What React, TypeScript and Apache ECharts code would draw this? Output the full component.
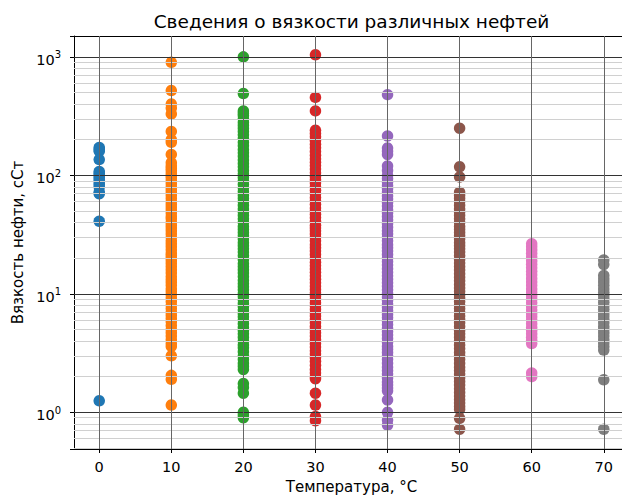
import React, { useEffect, useRef } from 'react';
import * as echarts from 'echarts';

// Temperatures (°C) of each column
const temperatures = [0, 10, 20, 30, 40, 50, 60, 70];

// Viscosity values (cSt)
const visc0 = [172, 165, 160, 136, 108, 104, 100, 96, 92, 88, 84, 80, 72, 70, 41, 1.25];
const visc10 = [900, 520, 400, 370, 330, 235, 200, 190, 150, 128, 120, 115, 110, 104, 99, 95, 90, 85, 80, 76, 72, 68, 64, 60, 57, 54, 51, 48, 45, 43, 40, 38, 36, 34, 32, 30, 28, 26.5, 25, 23.5, 22, 21, 20, 19, 18, 17, 16, 15, 14, 13.2, 12.5, 11.8, 11, 10.4, 9.8, 9.2, 8.6, 8, 7.5, 7, 6.6, 6.2, 5.8, 5.4, 5, 4.7, 4.4, 4.1, 3.8, 3.6, 3.0, 2.05, 1.9, 1.15];
const visc20 = [1000, 490, 350, 335, 320, 300, 280, 265, 250, 235, 220, 205, 190, 178, 165, 155, 145, 135, 126, 118, 110, 103, 96, 90, 84, 78, 73, 68, 64, 60, 56, 52, 49, 46, 43, 40, 37, 35, 33, 31, 29, 27, 25.5, 24, 22.5, 21, 19.5, 18, 17, 16, 15, 14, 13, 12.2, 11.5, 10.8, 10.1, 9.5, 8.9, 8.3, 7.8, 7.3, 6.8, 6.4, 6, 5.6, 5.2, 4.9, 4.6, 4.3, 4.0, 3.7, 3.5, 3.25, 3.0, 2.8, 2.6, 2.45, 2.3, 1.75, 1.62, 1.45, 1.0, 0.95, 0.9];
const visc30 = [1040, 455, 350, 240, 226, 212, 197, 183, 171, 159, 148, 138, 129, 121, 113, 105, 98, 92, 86, 80, 75, 70, 65, 61, 57, 53, 50, 47, 44, 41, 38, 36, 34, 32, 30, 28, 26, 24.5, 23, 21.5, 20, 18.5, 17.3, 16.2, 15.2, 14.2, 13.3, 12.4, 11.6, 10.9, 10.2, 9.6, 9, 8.4, 7.9, 7.4, 6.9, 6.5, 6.1, 5.7, 5.3, 5, 4.7, 4.4, 4.1, 3.8, 3.55, 3.3, 3.1, 2.9, 2.7, 2.5, 2.3, 2.15, 2.0, 1.92, 1.45, 1.15, 0.92, 0.85];
const visc40 = [480, 215, 170, 160, 150, 120, 110, 100, 94, 88, 82, 77, 72, 67, 63, 59, 55, 51, 48, 45, 42, 39, 36.5, 34, 32, 30, 28, 26, 24.5, 23, 21.5, 20, 18.7, 17.5, 16.3, 15.2, 14.2, 13.3, 12.4, 11.6, 10.8, 10.1, 9.4, 8.8, 8.2, 7.7, 7.2, 6.7, 6.3, 5.9, 5.5, 5.1, 4.8, 4.5, 4.2, 3.9, 3.6, 3.4, 3.2, 3.0, 2.8, 2.6, 2.4, 2.25, 2.1, 1.95, 1.8, 1.7, 1.6, 1.52, 1.27, 1.0, 0.86, 0.78];
const visc50 = [250, 118, 97, 72, 68, 64, 60, 56, 52, 49, 46, 43, 40, 37, 35, 33, 31, 29, 27, 25.5, 24, 22.5, 21, 19.5, 18.2, 17, 15.9, 14.8, 13.8, 12.9, 12, 11.2, 10.5, 9.8, 9.2, 8.6, 8, 7.5, 7, 6.5, 6.1, 5.7, 5.3, 4.9, 4.6, 4.3, 4.0, 3.7, 3.45, 3.2, 3.0, 2.8, 2.6, 2.4, 2.25, 2.1, 1.95, 1.82, 1.7, 1.58, 1.47, 1.37, 1.28, 1.2, 1.12, 1.06, 0.89, 0.72];
const visc60 = [26.5, 25, 23.5, 22, 20.5, 19, 17.8, 16.6, 15.5, 14.5, 13.5, 12.6, 11.8, 11, 10.3, 9.6, 9, 8.4, 7.8, 7.3, 6.8, 6.4, 6, 5.6, 5.2, 4.9, 4.6, 4.3, 4.05, 3.8, 2.15, 2.0];
const visc70 = [19.3, 17.7, 14.3, 13.4, 12.6, 11.8, 11.0, 10.3, 9.7, 9.1, 8.5, 7.9, 7.4, 6.9, 6.5, 6.1, 5.7, 5.3, 5.0, 4.7, 4.4, 4.1, 3.85, 3.6, 3.35, 1.88, 0.72];

const viscosityGroups = [visc0, visc10, visc20, visc30, visc40, visc50, visc60, visc70];

const seriesColors = ['#1f77b4', '#ff7f0e', '#2ca02c', '#d62728', '#9467bd', '#8c564b', '#e377c2', '#7f7f7f'];

// Tick values
const xTicks = [0, 10, 20, 30, 40, 50, 60, 70];
const majorY = [1, 10, 100, 1000];
const minorY = [0.5, 0.6, 0.7, 0.8, 0.9, 2, 3, 4, 5, 6, 7, 8, 9, 20, 30, 40, 50, 60, 70, 80, 90, 200, 300, 400, 500, 600, 700, 800, 900];

const titleText = 'Сведения о вязкости различных нефтей';
const xName = 'Температура, °C';
const yName = 'Вязкость нефти, сСт';

export default function App() {
  const ref = useRef<HTMLDivElement>(null);

  useEffect(() => {
    if (!ref.current) return;
    const chart = echarts.init(ref.current, null, { renderer: 'svg' });
    const font = 'DejaVu Sans';

    const scatterSeries = viscosityGroups.map((vals, i) => ({
      type: 'scatter',
      name: `${temperatures[i]}`,
      data: vals.map((v) => [temperatures[i], v]),
      symbol: 'circle',
      symbolSize: 11.5,
      itemStyle: { color: seriesColors[i], opacity: 1 },
      z: 2,
      silent: true,
    }));

    const gridSeries = {
      type: 'scatter',
      name: 'grid',
      data: [],
      silent: true,
      z: 4,
      markLine: {
        silent: true,
        symbol: 'none',
        animation: false,
        label: { show: false },
        z: 4,
        data: [
          ...minorY.map((v) => ({ yAxis: v, lineStyle: { color: '#d0d0d0', width: 1, type: 'solid' } })),
          ...majorY.map((v) => ({ yAxis: v, lineStyle: { color: '#333333', width: 1, type: 'solid' } })),
          ...xTicks.map((v) => ({ xAxis: v, lineStyle: { color: '#666666', width: 1, type: 'solid' } })),
        ],
      },
    };

    const yFormatter = (v: number) => {
      const e = Math.log10(v);
      const r = Math.round(e);
      if (Math.abs(e - r) > 1e-6) return '';
      return `{b|10}{s|${r}}`;
    };

    chart.setOption({
      animation: false,
      textStyle: { fontFamily: font },
      graphic: [
        {
          type: 'text',
          x: 351.5,
          y: 21,
          style: {
            text: titleText,
            font: `18.5px "${font}"`,
            fill: '#000',
            textAlign: 'center',
            textVerticalAlign: 'middle',
          },
        },
      ],
      grid: {
        left: 74,
        top: 36,
        width: 555,
        height: 413,
        containLabel: false,
        outerBoundsMode: 'none',
      },
      xAxis: [
        {
          type: 'value',
          min: -3.5,
          max: 73.5,
          position: 'bottom',
          axisLine: { show: true, onZero: false, lineStyle: { color: '#000', width: 1 } },
          axisTick: { show: true, customValues: xTicks, length: 4, lineStyle: { color: '#000', width: 1 } },
          axisLabel: { customValues: xTicks, margin: 10, color: '#000', fontSize: 14.5, fontFamily: font },
          splitLine: { show: false },
          name: xName,
          nameLocation: 'middle',
          nameGap: 30,
          nameTextStyle: { color: '#000', fontSize: 15, fontFamily: font },
        },
        {
          type: 'value',
          min: -3.5,
          max: 73.5,
          position: 'top',
          axisLine: { show: true, onZero: false, lineStyle: { color: '#000', width: 1 } },
          axisTick: { show: false },
          axisLabel: { show: false },
          splitLine: { show: false },
        },
      ],
      yAxis: [
        {
          type: 'log',
          logBase: 10,
          min: 0.49,
          max: 1500,
          position: 'left',
          axisLine: { show: true, onZero: false, lineStyle: { color: '#000', width: 1 } },
          axisTick: { show: true, length: 4, lineStyle: { color: '#000', width: 1 } },
          axisLabel: {
            formatter: yFormatter,
            margin: 13,
            color: '#000',
            rich: {
              b: { fontSize: 14.5, fontFamily: font, color: '#000', padding: [6, 0, 0, 0] },
              s: { fontSize: 10, fontFamily: font, color: '#000', padding: [0, 0, 4, 0] },
            },
          },
          splitLine: { show: false },
          minorTick: { show: false },
          minorSplitLine: { show: false },
          name: yName,
          nameLocation: 'middle',
          nameGap: 46,
          nameRotate: 90,
          nameTextStyle: { color: '#000', fontSize: 15, fontFamily: font },
        },
        {
          type: 'log',
          logBase: 10,
          min: 0.49,
          max: 1500,
          position: 'left',
          axisLine: { show: false },
          axisTick: { show: true, customValues: minorY, length: 2, lineStyle: { color: '#000', width: 1 } },
          axisLabel: { show: false },
          splitLine: { show: false },
        },
      ],
      series: [...scatterSeries, gridSeries],
    });

    return () => {
      chart.dispose();
    };
  }, []);

  return (
    <div
      ref={ref}
      style={{ position: 'absolute', left: 0, top: 0, width: 622, height: 495 }}
    />
  );
}
